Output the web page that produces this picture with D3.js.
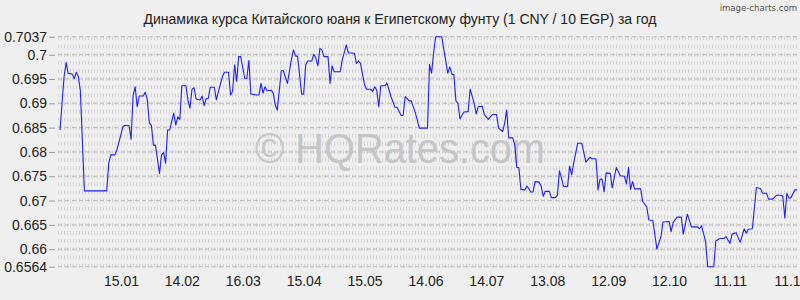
<!DOCTYPE html>
<html><head><meta charset="utf-8">
<script src="https://cdn.jsdelivr.net/npm/d3@7"></script>
<style>body{margin:0;background:#efefef}svg{display:block}</style>
</head><body>
<svg id="c" width="800" height="300"></svg>
<script>
// day index (0 = start of the one-year window) and CNY/EGP rate
const days = [1,3,4,5,7,8,9,10,11,13,24,25,26,28,29,32,33,35,36,37,38,39,40,42,43,44,45,46,47,48,50,51,52,53,54,55,57,58,59,60,61,63,64,65,66,67,68,70,71,72,73,74,75,77,78,79,81,82,84,85,86,87,88,89,90,92,93,94,95,98,99,100,101,102,103,105,106,107,108,110,111,113,115,116,117,118,120,121,122,123,125,126,127,128,129,130,131,133,134,135,136,139,140,142,143,146,147,148,149,151,152,154,155,156,157,158,159,161,162,164,166,167,169,170,171,173,174,176,178,182,183,184,185,186,189,192,193,194,195,196,197,198,199,200,202,203,205,206,207,209,210,212,214,216,217,219,220,221,222,224,225,226,227,228,230,231,233,234,235,237,238,239,240,242,243,245,246,247,248,249,251,252,253,254,256,258,260,262,263,265,266,267,268,269,270,272,273,275,277,279,280,281,282,283,284,287,288,290,291,293,295,297,298,301,302,303,305,307,308,310,312,315,316,317,319,320,323,324,326,328,329,331,332,334,336,338,339,340,342,344,346,347,349,350,352,354,356,357,358,359,360,361,363,364];
const rates = [0.6845,0.6955,0.6984,0.6962,0.6960,0.6951,0.6964,0.6955,0.6927,0.6720,0.6720,0.6777,0.6794,0.6794,0.6804,0.6852,0.6855,0.6854,0.6826,0.6917,0.6934,0.6893,0.6915,0.6915,0.6923,0.6907,0.6859,0.6855,0.6814,0.6814,0.6756,0.6794,0.6799,0.6777,0.6845,0.6845,0.6880,0.6855,0.6872,0.6867,0.6936,0.6936,0.6907,0.6890,0.6929,0.6932,0.6909,0.6907,0.6915,0.6895,0.6910,0.6910,0.6933,0.6933,0.6907,0.6924,0.6955,0.6964,0.6964,0.6917,0.6925,0.6979,0.6945,0.6996,0.6996,0.6951,0.6951,0.6988,0.6919,0.6917,0.6917,0.6941,0.6921,0.6934,0.6926,0.6927,0.6921,0.6897,0.6886,0.6967,0.6967,0.6941,0.6991,0.7010,0.6997,0.6997,0.6919,0.6919,0.6979,0.6987,0.6987,0.7001,0.6993,0.6977,0.7013,0.7010,0.6996,0.6996,0.6941,0.6977,0.6965,0.6965,0.6989,0.7020,0.7004,0.7003,0.6982,0.6987,0.6982,0.6938,0.6929,0.6929,0.6924,0.6934,0.6927,0.6893,0.6936,0.6936,0.6942,0.6914,0.6892,0.6892,0.6875,0.6875,0.6914,0.6905,0.6905,0.6881,0.6849,0.6849,0.6980,0.6962,0.7003,0.7037,0.7037,0.6962,0.6975,0.6960,0.6959,0.6905,0.6900,0.6868,0.6876,0.6882,0.6883,0.6929,0.6900,0.6878,0.6893,0.6894,0.6876,0.6867,0.6877,0.6877,0.6849,0.6842,0.6859,0.6886,0.6829,0.6829,0.6814,0.6768,0.6768,0.6723,0.6722,0.6730,0.6717,0.6718,0.6739,0.6738,0.6729,0.6709,0.6719,0.6719,0.6706,0.6706,0.6711,0.6761,0.6746,0.6729,0.6729,0.6771,0.6753,0.6777,0.6818,0.6818,0.6779,0.6789,0.6786,0.6786,0.6722,0.6744,0.6744,0.6718,0.6757,0.6756,0.6726,0.6768,0.6751,0.6750,0.6734,0.6768,0.6723,0.6739,0.6724,0.6724,0.6698,0.6687,0.6660,0.6659,0.6600,0.6626,0.6656,0.6657,0.6636,0.6655,0.6666,0.6666,0.6631,0.6672,0.6646,0.6646,0.6642,0.6648,0.6615,0.6564,0.6564,0.6617,0.6622,0.6622,0.6626,0.6612,0.6631,0.6634,0.6614,0.6642,0.6633,0.6641,0.6642,0.6727,0.6725,0.6715,0.6715,0.6703,0.6703,0.6711,0.6711,0.6709,0.6664,0.6715,0.6705,0.6706,0.6722,0.6722,0.6701];
const yTicks = [0.7037,0.7,0.695,0.69,0.685,0.68,0.675,0.67,0.665,0.66,0.6564];
const yTickLabels = ["0.7037","0.7","0.695","0.69","0.685","0.68","0.675","0.67","0.665","0.66","0.6564"];
const xTickDays = [31,61,91,121,151,181,211,241,271,301,331,361];
const xTickLabels = ["15.01","14.02","16.03","15.04","15.05","14.06","14.07","13.08","12.09","12.10","11.11","11.12"];
const title = "Динамика курса Китайского юаня к Египетскому фунту (1 CNY / 10 EGP) за год";

(function () {
const svg = d3.select("#c");
const W = 800, H = 300;
const pLeft = 58, pRight = 797, pTop = 36.7, pBottom = 266.7;

svg.append("rect").attr("width", W).attr("height", H).attr("fill", "#efefef");

const x = d3.scaleLinear().domain([0, 364]).range([pLeft, pRight]);
const y = d3.scaleLinear().domain([0.6564, 0.7037]).range([pBottom, pTop]);

// textured grid rows
const step = 0.005 / 3;
const rows = [];
for (let k = -3; k <= 30; k++) {
  const v = 0.66 + k * step;
  const py = y(v);
  if (py >= 33 && py <= 270) rows.push(py);
}
const g = svg.append("g");
g.selectAll("line.row").data(rows).join("line")
  .attr("class", "row")
  .attr("x1", pLeft).attr("x2", pRight)
  .attr("y1", d => d).attr("y2", d => d)
  .attr("stroke", "#d3d3d3").attr("stroke-width", 4)
  .attr("stroke-dasharray", "1,2");

// major dashed grid lines
g.selectAll("line.maj").data(yTicks).join("line")
  .attr("class", "maj")
  .attr("x1", pLeft).attr("x2", pRight)
  .attr("y1", d => y(d)).attr("y2", d => y(d))
  .attr("stroke", "#bdbdbd").attr("stroke-width", 1)
  .attr("stroke-dasharray", "4,3");

// watermark
svg.append("text")
  .attr("x", 400).attr("y", 163)
  .attr("text-anchor", "middle")
  .attr("font-family", "Liberation Sans, Arial, sans-serif")
  .attr("font-size", 42)
  .attr("fill", "#c6c6c6")
  .attr("textLength", 290).attr("lengthAdjust", "spacingAndGlyphs")
  .text("© HQRates.com");

// line
const line = d3.line().x(d => x(d[0])).y(d => y(d[1]));
svg.append("path")
  .datum(days.map((d, i) => [d, rates[i]]))
  .attr("d", line)
  .attr("fill", "none")
  .attr("stroke", "#1f1fff")
  .attr("stroke-width", 1.1)
  .attr("stroke-linejoin", "round");

// y axis
const yAxis = d3.axisLeft(y).tickValues(yTicks).tickFormat((d, i) => yTickLabels[i]).tickSize(6).tickPadding(2);
const ya = svg.append("g").attr("transform", `translate(${pLeft - 3},0)`).call(yAxis);
ya.select(".domain").remove();
ya.selectAll("line").attr("stroke", "#999");
ya.selectAll("text").attr("font-family", "Liberation Sans, Arial, sans-serif").attr("font-size", 14).attr("fill", "#222");

// x axis
const xAxis = d3.axisBottom(x).tickValues(xTickDays).tickFormat((d, i) => xTickLabels[i]).tickSize(0).tickPadding(0);
const xa = svg.append("g").attr("transform", `translate(0,274)`).call(xAxis);
xa.select(".domain").remove();
xa.selectAll("text").attr("font-family", "Liberation Sans, Arial, sans-serif").attr("font-size", 14).attr("fill", "#222").attr("dy", "0.85em");

// title
svg.append("text").attr("x", 400).attr("y", 24).attr("text-anchor", "middle")
  .attr("font-family", "Liberation Sans, Arial, sans-serif").attr("font-size", 14).attr("fill", "#222")
  .text(title);

svg.append("text").attr("x", 797).attr("y", 11).attr("text-anchor", "end")
  .attr("font-family", "DejaVu Sans Condensed, DejaVu Sans, sans-serif").attr("font-size", 9.5).attr("fill", "#555")
  .text("image-charts.com");
})();
</script>
</body></html>
